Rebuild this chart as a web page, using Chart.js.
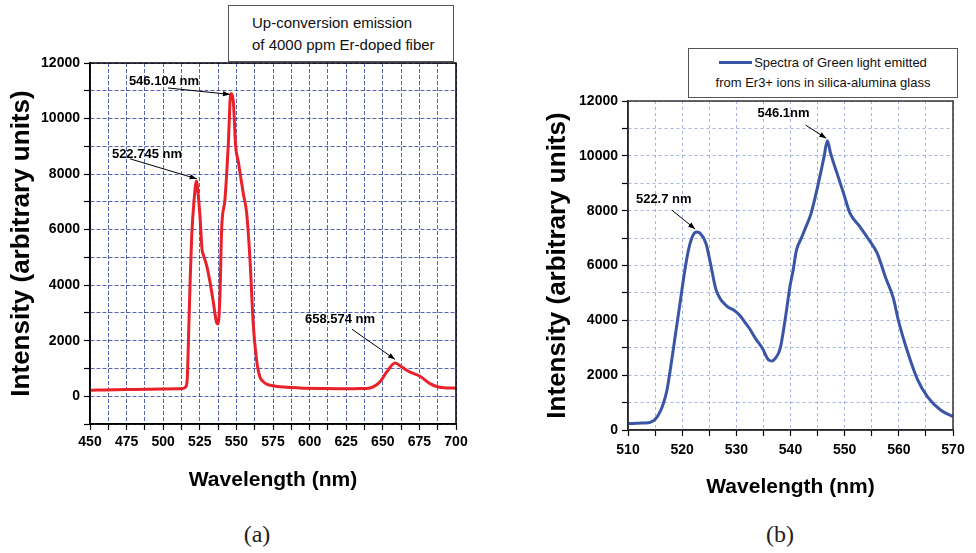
<!DOCTYPE html>
<html>
<head>
<meta charset="utf-8">
<script src="https://cdn.jsdelivr.net/npm/chart.js@4.4.1/dist/chart.umd.min.js"></script>
<style>
  html,body{margin:0;padding:0;background:#fff;}
  body{width:976px;height:553px;position:relative;overflow:hidden;font-family:"Liberation Sans",Arial,sans-serif;}
  canvas{position:absolute;}
  #ca{left:0;top:0;}
  #cb{left:490px;top:0;}
  .tbox{position:absolute;left:228px;top:5px;width:226px;height:57px;border:1px solid #555;background:#fff;box-sizing:border-box;
        font-size:15px;line-height:22px;padding:6px 0 0 23px;color:#111;}
  .lbox{position:absolute;left:688px;top:48px;width:270px;height:50px;border:1px solid #555;background:#fff;box-sizing:border-box;
        font-size:13px;line-height:20px;padding-top:4px;text-align:center;color:#111;}
  .swatch{display:inline-block;width:33px;height:3px;background:#3a55a6;vertical-align:middle;margin-right:2px;position:relative;top:-1px;}
  .cap{position:absolute;top:521px;width:60px;text-align:center;font-family:"Liberation Serif","DejaVu Serif",serif;font-size:24px;color:#222;}
</style>
</head>
<body>
<canvas id="ca" width="476" height="500"></canvas>
<canvas id="cb" width="486" height="510"></canvas>
<div class="tbox">Up-conversion emission<br>of 4000 ppm Er-doped fiber</div>
<div class="lbox"><span class="swatch"></span>Spectra of Green light emitted<br>from Er3+ ions in silica-alumina glass</div>
<div class="cap" style="left:227px">(a)</div>
<div class="cap" style="left:750px">(b)</div>
<script>
// ---------- Data: panel (a) ----------
const wavelengthA = [450,460,475,490,500,510,513.3,515.5,516.5,517.5,518.5,519.5,521,522.7,524,525.1,526.5,527.4,529.7,532,534.2,536.5,537.5,538.8,539.9,542.2,544.5,546.1,547.9,549.5,551.3,554.7,557,559.3,561.5,563.8,566,568.4,571,575.2,580,593.4,610,625,634.4,639,643.4,648,652.7,658.3,661.7,666.3,670,675.4,682.2,687.9,693,700];
const intensityA  = [215,225,240,255,260,265,275,350,700,2500,4300,5800,7000,7750,7200,6500,5300,5100,4700,4100,3400,2650,2600,3700,6000,7100,9100,10900,10600,9000,8450,7300,6600,4900,2600,1300,700,520,430,380,340,300,280,270,275,280,340,515,875,1200,1100,935,840,720,455,335,300,290];

// ---------- Data: panel (b) ----------
const wavelengthB = [510,511,512,513,514,515,516,516.5,517.2,517.8,518.7,519.6,520.5,521.2,522,522.7,523.3,524.4,525.3,526.2,527,527.7,528.5,529.5,530.6,531.5,532.4,533.5,534.8,536,536.6,537.2,538.1,539,539.9,540.5,541.1,542,542.6,543.8,545,546.2,546.8,547.4,548.6,549.8,551,552.8,554.5,556,557.5,559,559.9,561.7,563.5,565.3,567.7,570];
const intensityB  = [230,240,250,255,275,380,700,950,1460,2190,3400,4620,5840,6600,7100,7220,7180,6800,6000,5150,4800,4620,4480,4380,4190,3950,3710,3350,2980,2550,2520,2610,2980,4010,5230,5840,6560,7000,7290,7900,8870,9970,10550,10090,9360,8630,7900,7420,6930,6450,5590,4800,4010,2800,1820,1210,730,490];

// ---------- Axis ranges / tick labels ----------
const xRangeA = [450, 700], xStepA = 12.5, xLabelStepA = 25;
const yRangeA = [-1000, 12000], yStepA = 1000, yLabelStepA = 2000;
const xRangeB = [510, 570], xStepB = 5, xLabelStepB = 10;
const yRangeB = [0, 12000], yStepB = 1000, yLabelStepB = 2000;

// ---------- Peak annotations (in data units) ----------
const peaksA = [
  {text:'546.104 nm', at:[500.5,11330], from:[503.3,11100], to:[545.6,10870]},
  {text:'522.745 nm', at:[488.9,8700],  from:[477.3,8550],  to:[522.9,7830]},
  {text:'658.574 nm', at:[620.8,2770],  from:[629.0,2410],  to:[658.3,1330]}
];
const peaksB = [
  {text:'546.1nm',  at:[538.7,11560], from:[542.8,11120], to:[546.6,10640]},
  {text:'522.7 nm', at:[516.6,8425],  from:[518.1,8020],  to:[522.4,7330]}
];

const FONT = '"Liberation Sans", Arial, sans-serif';
Chart.defaults.color = '#000';
Chart.defaults.font.family = FONT;

const annotPlugin = {
  id:'peakNotes',
  afterDatasetsDraw(chart, args, opts){
    const {ctx, scales:{x,y}} = chart;
    ctx.save();
    ctx.font = 'bold 13px ' + FONT;
    ctx.fillStyle = '#000';
    ctx.textAlign = 'center';
    ctx.textBaseline = 'middle';
    for (const p of opts.items){
      ctx.fillText(p.text, x.getPixelForValue(p.at[0]), y.getPixelForValue(p.at[1]));
      const x1 = x.getPixelForValue(p.from[0]), y1 = y.getPixelForValue(p.from[1]);
      const x2 = x.getPixelForValue(p.to[0]),   y2 = y.getPixelForValue(p.to[1]);
      ctx.strokeStyle = '#000'; ctx.lineWidth = 1;
      ctx.beginPath(); ctx.moveTo(x1,y1); ctx.lineTo(x2,y2); ctx.stroke();
      const a = Math.atan2(y2-y1, x2-x1), L = 7, W = 2.6;
      ctx.beginPath();
      ctx.moveTo(x2,y2);
      ctx.lineTo(x2 - L*Math.cos(a) + W*Math.sin(a), y2 - L*Math.sin(a) - W*Math.cos(a));
      ctx.lineTo(x2 - L*Math.cos(a) - W*Math.sin(a), y2 - L*Math.sin(a) + W*Math.cos(a));
      ctx.closePath(); ctx.fill();
    }
    ctx.restore();
  }
};
const framePlugin = {
  id:'frame',
  afterDraw(chart, args, opts){
    const {ctx, chartArea:a} = chart;
    ctx.save();
    ctx.strokeStyle = opts.color; ctx.lineWidth = opts.width;
    ctx.strokeRect(a.left, a.top, a.right - a.left, a.bottom - a.top);
    ctx.restore();
  }
};

function makeChart(id, xs, ys, cfg){
  return new Chart(document.getElementById(id), {
    type:'line',
    data:{datasets:[{
      data: xs.map((v,i)=>({x:v, y:ys[i]})),
      borderColor: cfg.lineColor, borderWidth: 3, pointRadius: 0,
      cubicInterpolationMode:'monotone', fill:false
    }]},
    options:{
      responsive:false, animation:false, devicePixelRatio:1,
      layout:{padding:cfg.padding},
      plugins:{legend:{display:false}, tooltip:{enabled:false},
               peakNotes:{items:cfg.peaks}, frame:{color:cfg.frameColor, width:1.5}},
      scales:{
        x:{type:'linear', min:cfg.xRange[0], max:cfg.xRange[1],
           afterFit(s){ s.height = cfg.xAxisH; },
           ticks:{stepSize:cfg.xStep, autoSkip:false, maxRotation:0, padding:cfg.xTickPad,
                  font:{size:14, weight:'bold'},
                  callback:(v)=> (Math.abs(v % cfg.xLabelStep) < 1e-6 ? String(v) : '')},
           grid:{color:cfg.gridColor, lineWidth:1, tickLength:6, tickColor:'#000', tickWidth:1.2},
           border:{dash:cfg.dash, color:'#000', width:1.5},
           title:{display:true, text:'Wavelength (nm)', font:{size:21, weight:'bold'},
                  padding:{top:0, bottom:cfg.xTitlePad}}},
        y:{type:'linear', min:cfg.yRange[0], max:cfg.yRange[1],
           afterFit(s){ s.width = cfg.yAxisW; },
           ticks:{stepSize:cfg.yStep, autoSkip:false, padding:4, font:{size:14, weight:'bold'},
                  callback:(v)=> (Math.abs(v % cfg.yLabelStep) < 1e-6 ? String(v) : '')},
           grid:{color:cfg.gridColor, lineWidth:1, tickLength:6, tickColor:'#000', tickWidth:1.2},
           border:{dash:cfg.dash, color:'#000', width:1.5},
           title:{display:true, text:'Intensity (arbitrary units)', font:{size:26, weight:'bold'},
                  padding:{top:cfg.yTitlePad, bottom:0}}}
      }
    },
    plugins:[annotPlugin, framePlugin]
  });
}

makeChart('ca', wavelengthA, intensityA, {
  lineColor:'#e8212b', gridColor:'rgba(45,60,160,0.8)', dash:[4,2], frameColor:'#000',
  xRange:xRangeA, xStep:xStepA, xLabelStep:xLabelStepA,
  yRange:yRangeA, yStep:yStepA, yLabelStep:yLabelStepA,
  padding:{left:0, top:63, right:20, bottom:0},
  xAxisH:76, yAxisW:90, xTickPad:4, xTitlePad:7, yTitlePad:6,
  peaks:peaksA
});
makeChart('cb', wavelengthB, intensityB, {
  lineColor:'#3a55a6', gridColor:'rgba(110,130,205,0.6)', dash:[3,3], frameColor:'#333',
  xRange:xRangeB, xStep:xStepB, xLabelStep:xLabelStepB,
  yRange:yRangeB, yStep:yStepB, yLabelStep:yLabelStepB,
  padding:{left:0, top:101, right:23, bottom:0},
  xAxisH:80, yAxisW:138, xTickPad:6, xTitlePad:10, yTitlePad:52,
  peaks:peaksB
});
</script>
</body>
</html>
